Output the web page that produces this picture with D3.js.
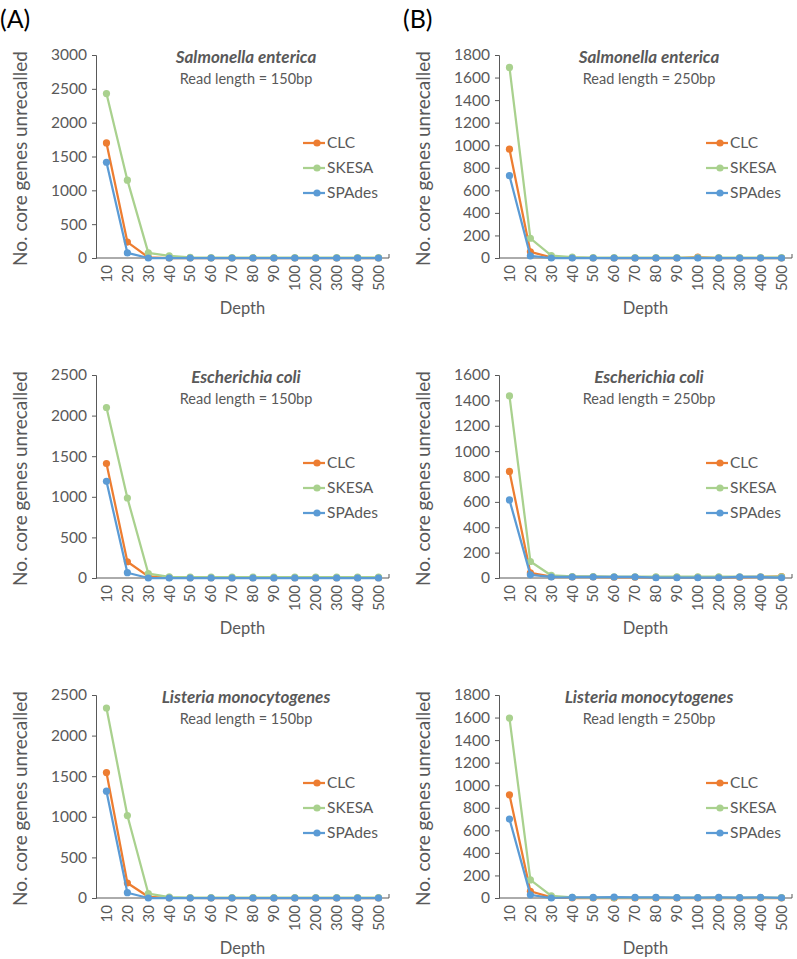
<!DOCTYPE html>
<html>
<head>
<meta charset="utf-8">
<script src="https://cdn.jsdelivr.net/npm/d3@7"></script>
<style>
  body { margin: 0; background: #fff; }
  text { font-family: Lato, "Open Sans", sans-serif; fill: #595959; }
</style>
</head>
<body>
<div id="chart"></div>
<script>
// depth categories on the x axis
const depths = ["10", "20", "30", "40", "50", "60", "70", "80", "90", "100", "200", "300", "400", "500"];
const seriesNames = ["CLC", "SKESA", "SPAdes"];
const seriesColors = ["#ED7D31", "#A9D18E", "#5B9BD5"];

// values per panel, rows in order CLC, SKESA, SPAdes
const salmonella150 = [
  [1700, 235, 10, 0, 0, 0, 0, 0, 0, 0, 0, 0, 0, 0],
  [2430, 1150, 75, 30, 8, 5, 5, 5, 5, 5, 5, 5, 5, 5],
  [1415, 75, 0, 0, 0, 0, 0, 0, 0, 0, 0, 0, 0, 0]
];
const salmonella250 = [
  [965, 55, 5, 2, 0, 0, 0, 0, 0, 8, 0, 0, 0, 0],
  [1690, 175, 22, 8, 3, 3, 3, 3, 3, 3, 3, 3, 3, 3],
  [730, 18, 0, 0, 0, 0, 0, 0, 0, 0, 0, 0, 0, 0]
];
const ecoli150 = [
  [1410, 200, 20, 5, 3, 3, 3, 3, 3, 3, 3, 3, 3, 3],
  [2100, 985, 55, 15, 12, 10, 10, 10, 10, 10, 10, 10, 10, 10],
  [1190, 65, 0, 0, 0, 0, 0, 0, 0, 0, 0, 0, 0, 0]
];
const ecoli250 = [
  [840, 40, 10, 8, 8, 6, 6, 5, 5, 5, 5, 6, 8, 12],
  [1435, 130, 20, 12, 12, 10, 10, 10, 10, 10, 10, 10, 10, 10],
  [615, 25, 8, 8, 8, 8, 8, 2, 2, 2, 2, 8, 8, 2]
];
const listeria150 = [
  [1545, 185, 15, 2, 0, 0, 0, 0, 0, 0, 0, 0, 0, 0],
  [2340, 1015, 55, 10, 5, 5, 5, 5, 5, 5, 5, 5, 5, 5],
  [1315, 65, 0, 0, 0, 0, 0, 0, 0, 0, 0, 0, 0, 0]
];
const listeria250 = [
  [915, 60, 5, 0, 0, 0, 0, 0, 0, 0, 0, 0, 0, 0],
  [1595, 160, 18, 5, 4, 4, 4, 4, 4, 4, 4, 4, 4, 4],
  [700, 28, 0, 5, 5, 8, 5, 5, 3, 3, 5, 3, 5, 2]
];

const species = ["Salmonella enterica", "Escherichia coli", "Listeria monocytogenes"];
const readLengths = ["Read length = 150bp", "Read length = 250bp"];
const yMaxes = [[3000, 1800], [2500, 1600], [2500, 1800]];
const ySteps = [[500, 200], [500, 200], [500, 200]];
const panelData = [[salmonella150, salmonella250], [ecoli150, ecoli250], [listeria150, listeria250]];

const W = 797, H = 959;
const svg = d3.select("#chart").append("svg")
  .attr("width", W).attr("height", H);

svg.append("text").attr("x", 0).attr("y", 28).style("font-size", "25px").style("fill", "#000").text("(A)");
svg.append("text").attr("x", 403).attr("y", 28).style("font-size", "25px").style("fill", "#000").text("(B)");

const colLeft = [96, 499];
const plotW = 293, plotH = 203;
const rowTop = [55, 375, 695];

for (let r = 0; r < 3; r++) {
  for (let c = 0; c < 2; c++) {
    const g = svg.append("g").attr("transform", `translate(${colLeft[c]},${rowTop[r]})`);
    const x = d3.scaleBand().domain(depths).range([0, plotW]);
    const y = d3.scaleLinear().domain([0, yMaxes[r][c]]).range([plotH, 0]);
    const cx = d => x(d) + x.bandwidth() / 2;

    // y axis
    const yAxis = d3.axisLeft(y)
      .tickValues(d3.range(0, yMaxes[r][c] + 1, ySteps[r][c]))
      .tickFormat(d3.format("d"))
      .tickSize(4).tickPadding(5);
    const ya = g.append("g").call(yAxis);
    ya.select(".domain").attr("stroke", "#595959");
    ya.selectAll(".tick line").attr("stroke", "#595959");
    ya.selectAll(".tick text").style("font-size", "15.5px").style("fill", "#595959")
      .style("font-family", "Lato, sans-serif");

    // x axis
    const xa = g.append("g").attr("transform", `translate(0,${plotH})`)
      .call(d3.axisBottom(x).tickSize(0).tickPadding(6));
    xa.select(".domain").attr("stroke", "#595959").attr("d", `M0,0H${plotW}V-4`);
    xa.selectAll(".tick text")
      .attr("transform", "rotate(-90)")
      .attr("text-anchor", "end")
      .attr("x", -7).attr("y", 0).attr("dy", "0.35em")
      .style("font-size", "15px").style("fill", "#595959")
      .style("font-family", "Lato, sans-serif");

    // axis titles
    g.append("text")
      .attr("transform", `translate(${-69},${plotH / 2 + 2}) rotate(-90)`)
      .attr("text-anchor", "middle")
      .style("font-size", "19px")
      .text("No. core genes unrecalled");
    g.append("text")
      .attr("x", plotW / 2).attr("y", plotH + 56)
      .attr("text-anchor", "middle")
      .style("font-size", "16.5px")
      .text("Depth");

    // panel title
    g.append("text")
      .attr("x", 150).attr("y", 8)
      .attr("text-anchor", "middle")
      .style("font-size", "17px").style("font-weight", "bold").style("font-style", "italic")
      .text(species[r]);
    g.append("text")
      .attr("x", 150).attr("y", 29)
      .attr("text-anchor", "middle")
      .style("font-size", "14.5px")
      .text(readLengths[c]);

    // series
    const line = d3.line().x((v, i) => cx(depths[i])).y(v => y(v));
    panelData[r][c].forEach((vals, s) => {
      g.append("path").datum(vals)
        .attr("fill", "none").attr("stroke", seriesColors[s]).attr("stroke-width", 2.25)
        .attr("stroke-linejoin", "round")
        .attr("d", line);
      g.selectAll(null).data(vals).enter().append("circle")
        .attr("cx", (v, i) => cx(depths[i]))
        .attr("cy", v => y(v))
        .attr("r", 3.6)
        .attr("fill", seriesColors[s]);
    });

    // legend
    const lg = g.append("g").attr("transform", `translate(${207},${88})`);
    seriesNames.forEach((n, s) => {
      const row = lg.append("g").attr("transform", `translate(0,${s * 25})`);
      row.append("line").attr("x1", 0).attr("x2", 22).attr("y1", 0).attr("y2", 0)
        .attr("stroke", seriesColors[s]).attr("stroke-width", 2.25);
      row.append("circle").attr("cx", 14).attr("cy", 0).attr("r", 3.6).attr("fill", seriesColors[s]);
      row.append("text").attr("x", 24).attr("y", 0).attr("dy", "0.35em")
        .style("font-size", "15.5px").text(n);
    });
  }
}
</script>
</body>
</html>
